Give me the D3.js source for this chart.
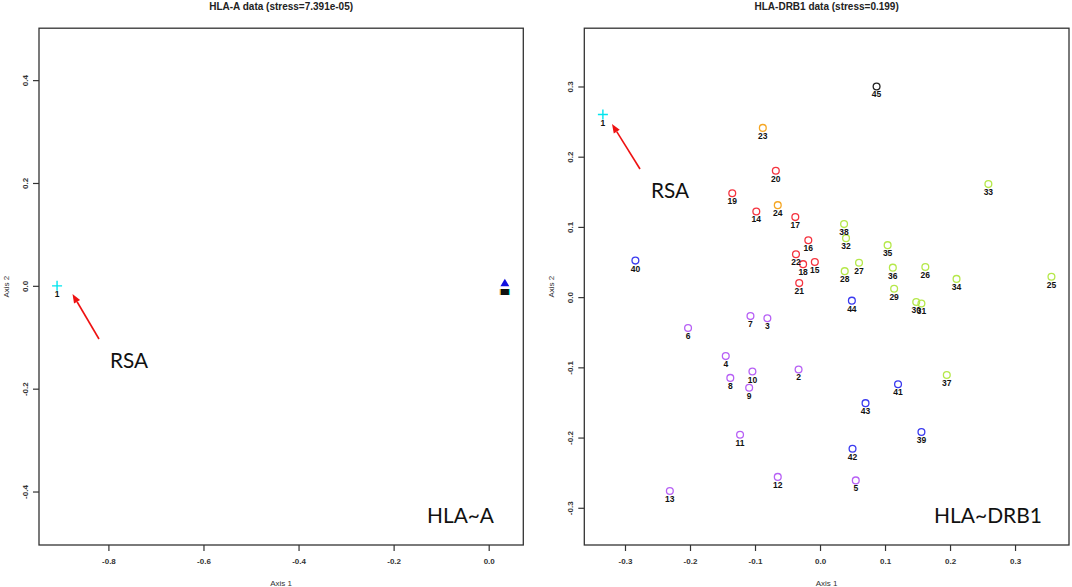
<!DOCTYPE html>
<html>
<head>
<meta charset="utf-8">
<script src="https://cdn.jsdelivr.net/npm/d3@7"></script>
<style>
  body { margin: 0; background: #fff; }
  svg { display: block; font-family: "Liberation Sans", Arial, sans-serif; }
  .tick line { stroke: #333; stroke-width: 1.2; }
  .tick text { font-size: 8px; font-weight: bold; fill: #333; }
  .ptlabel { font-size: 8.5px; font-weight: bold; fill: #111; text-anchor: middle; }
  .note { font-family: Lato, "Open Sans", sans-serif; font-size: 22px; fill: #111; }
</style>
</head>
<body>
<div id="chart"></div>
<script>
// HLA-A panel: RSA plus the tight cluster of the other samples
const hlaA_ids = ["1", "", ""];
const hlaA_x = [-0.908, 0.034, 0.034];
const hlaA_y = [0.0, 0.004, -0.012];
const hlaA_shape = ["plus", "triangle", "square"];

// HLA-DRB1 panel
const drb_ids = [
  "1", "2", "3", "4", "5", "6", "7", "8", "9", "10", "11", "12", "13",
  "14", "15", "16", "17", "18", "19", "20", "21", "22", "23", "24",
  "25", "26", "27", "28", "29", "30", "31", "32", "33", "34", "35", "36", "37", "38",
  "39", "40", "41", "42", "43", "44", "45",
];
const drb_x = [
  -0.334, -0.033, -0.081, -0.145, 0.055, -0.203, -0.107, -0.138, -0.109, -0.104, -0.123, -0.065, -0.231,
  -0.098, -0.008, -0.018, -0.038, -0.026, -0.135, -0.068, -0.032, -0.037, -0.088, -0.065,
  0.356, 0.162, 0.060, 0.038, 0.114, 0.148, 0.156, 0.040, 0.259, 0.210, 0.104, 0.112, 0.195, 0.037,
  0.156, -0.284, 0.120, 0.050, 0.070, 0.049, 0.087,
];
const drb_y = [
  0.260, -0.103, -0.030, -0.084, -0.261, -0.044, -0.027, -0.115, -0.129, -0.106, -0.196, -0.256, -0.276,
  0.122, 0.050, 0.081, 0.114, 0.047, 0.148, 0.180, 0.020, 0.061, 0.241, 0.131,
  0.029, 0.043, 0.049, 0.037, 0.012, -0.007, -0.009, 0.084, 0.161, 0.026, 0.074, 0.042, -0.111, 0.104,
  -0.192, 0.052, -0.124, -0.216, -0.151, -0.005, 0.300,
];
const drb_group = [
  "rsa", "p", "p", "p", "p", "p", "p", "p", "p", "p", "p", "p", "p",
  "r", "r", "r", "r", "r", "r", "r", "r", "r", "o", "o",
  "g", "g", "g", "g", "g", "g", "g", "g", "g", "g", "g", "g", "g", "g",
  "b", "b", "b", "b", "b", "b", "k",
];

const groups = ["rsa", "p", "r", "o", "g", "b", "k"];
const groupColors = ["#00e5ee", "#b760f5", "#f5333f", "#f5a623", "#b5e84a", "#3a3af0", "#222222"];

const leftTicksX = [-0.8, -0.6, -0.4, -0.2, 0.0];
const leftTicksY = [-0.4, -0.2, 0.0, 0.2, 0.4];
const rightTicks = [-0.3, -0.2, -0.1, 0.0, 0.1, 0.2, 0.3];

const W = 1072, H = 587;
const svg = d3.select("#chart").append("svg").attr("width", W).attr("height", H);

const color = d3.scaleOrdinal().domain(groups).range(groupColors);
const fmt = (d) => d.toFixed(1);

function drawFrame(xScale, yScale, ticksX, ticksY, title) {
  const [x0, x1] = xScale.range();
  const [y0, y1] = yScale.range();
  const g = svg.append("g");

  g.append("g")
    .attr("transform", `translate(0,${y0})`)
    .call(d3.axisBottom(xScale).tickValues(ticksX).tickFormat(fmt).tickSize(6).tickSizeOuter(0))
    .call((a) => a.select(".domain").remove())
    .call((a) => a.selectAll(".tick text").attr("y", 13));

  g.append("g")
    .attr("transform", `translate(${x0},0)`)
    .call(d3.axisLeft(yScale).tickValues(ticksY).tickFormat(fmt).tickSize(6).tickSizeOuter(0))
    .call((a) => a.select(".domain").remove())
    .call((a) =>
      a.selectAll(".tick text")
        .attr("x", null).attr("dy", null)
        .attr("text-anchor", "middle")
        .attr("transform", "translate(-11,0) rotate(-90)")
    );

  // plot box
  g.append("rect")
    .attr("x", x0).attr("y", y1)
    .attr("width", x1 - x0).attr("height", y0 - y1)
    .attr("fill", "none").attr("stroke", "#333").attr("stroke-width", 1.3);

  g.append("text")
    .attr("x", (x0 + x1) / 2).attr("y", 10)
    .attr("text-anchor", "middle")
    .attr("font-size", 10).attr("font-weight", "bold").attr("fill", "#222")
    .text(title);

  g.append("text")
    .attr("x", (x0 + x1) / 2).attr("y", 586)
    .attr("text-anchor", "middle")
    .attr("font-size", 8).attr("fill", "#333")
    .text("Axis 1");

  g.append("text")
    .attr("transform", `translate(${x0 - 30},${(y0 + y1) / 2}) rotate(-90)`)
    .attr("text-anchor", "middle")
    .attr("font-size", 8).attr("fill", "#333")
    .text("Axis 2");

  return g;
}

function drawPlus(g, cx, cy) {
  g.append("path")
    .attr("d", `M${cx - 5},${cy}H${cx + 5}M${cx},${cy - 5}V${cy + 5}`)
    .attr("stroke", color("rsa")).attr("stroke-width", 1.4);
}

function drawArrow(g, fromX, fromY, toX, toY) {
  const ang = Math.atan2(toY - fromY, toX - fromX);
  const len = 9, half = 3.5;
  const bx = toX - len * Math.cos(ang), by = toY - len * Math.sin(ang);
  g.append("line")
    .attr("x1", fromX).attr("y1", fromY).attr("x2", bx).attr("y2", by)
    .attr("stroke", "#ee1111").attr("stroke-width", 1.6);
  g.append("path")
    .attr("d", `M${toX},${toY}L${bx - half * Math.sin(ang)},${by + half * Math.cos(ang)}L${bx + half * Math.sin(ang)},${by - half * Math.cos(ang)}Z`)
    .attr("fill", "#ee1111");
}

// ---- left panel: HLA-A ----
const xL = d3.scaleLinear().domain([-0.946, 0.0728]).range([39, 523.3]);
const yL = d3.scaleLinear().domain([-0.504, 0.501]).range([545, 28.2]);
const gL = drawFrame(xL, yL, leftTicksX, leftTicksY, "HLA-A data (stress=7.391e-05)");

hlaA_x.forEach((xv, i) => {
  const cx = xL(xv), cy = yL(hlaA_y[i]);
  if (hlaA_shape[i] === "plus") {
    drawPlus(gL, cx, cy);
  } else if (hlaA_shape[i] === "triangle") {
    gL.append("path")
      .attr("d", d3.symbol(d3.symbolTriangle, 34)())
      .attr("transform", `translate(${cx},${cy})`)
      .attr("fill", "#1010e0");
  } else {
    // overlapping points drawn on top of each other
    [["#f5a623", -1.2], ["#00e5ee", 1.2], ["#111", 0]].forEach(([c, dx]) => {
      gL.append("rect")
        .attr("x", cx - 4 + dx).attr("y", cy - 3)
        .attr("width", 8).attr("height", 6)
        .attr("fill", c);
    });
  }
  if (hlaA_ids[i]) {
    gL.append("text").attr("class", "ptlabel")
      .attr("x", cx).attr("y", cy + 11).text(hlaA_ids[i]);
  }
});

drawArrow(gL, 99, 339, 72.5, 294);
gL.append("text").attr("class", "note").attr("x", 110).attr("y", 368)
  .attr("textLength", 38).attr("lengthAdjust", "spacingAndGlyphs").text("RSA");
gL.append("text").attr("class", "note").attr("x", 427).attr("y", 523)
  .attr("textLength", 67).attr("lengthAdjust", "spacingAndGlyphs").text("HLA~A");

// ---- right panel: HLA-DRB1 ----
const xR = d3.scaleLinear().domain([-0.3626, 0.383]).range([584.3, 1069]);
const yR = d3.scaleLinear().domain([-0.353, 0.383]).range([545, 28.2]);
const gR = drawFrame(xR, yR, rightTicks, rightTicks, "HLA-DRB1 data (stress=0.199)");

drb_x.forEach((xv, i) => {
  const cx = xR(xv), cy = yR(drb_y[i]);
  if (drb_group[i] === "rsa") {
    drawPlus(gR, cx, cy);
  } else {
    gR.append("circle")
      .attr("cx", cx).attr("cy", cy).attr("r", 3.4)
      .attr("fill", "none")
      .attr("stroke", color(drb_group[i]))
      .attr("stroke-width", 1.3);
  }
  gR.append("text").attr("class", "ptlabel")
    .attr("x", cx).attr("y", cy + 11).text(drb_ids[i]);
});

drawArrow(gR, 640, 169, 612, 124);
gR.append("text").attr("class", "note").attr("x", 651).attr("y", 198)
  .attr("textLength", 38).attr("lengthAdjust", "spacingAndGlyphs").text("RSA");
gR.append("text").attr("class", "note").attr("x", 934).attr("y", 523)
  .attr("textLength", 108).attr("lengthAdjust", "spacingAndGlyphs").text("HLA~DRB1");
</script>
</body>
</html>
